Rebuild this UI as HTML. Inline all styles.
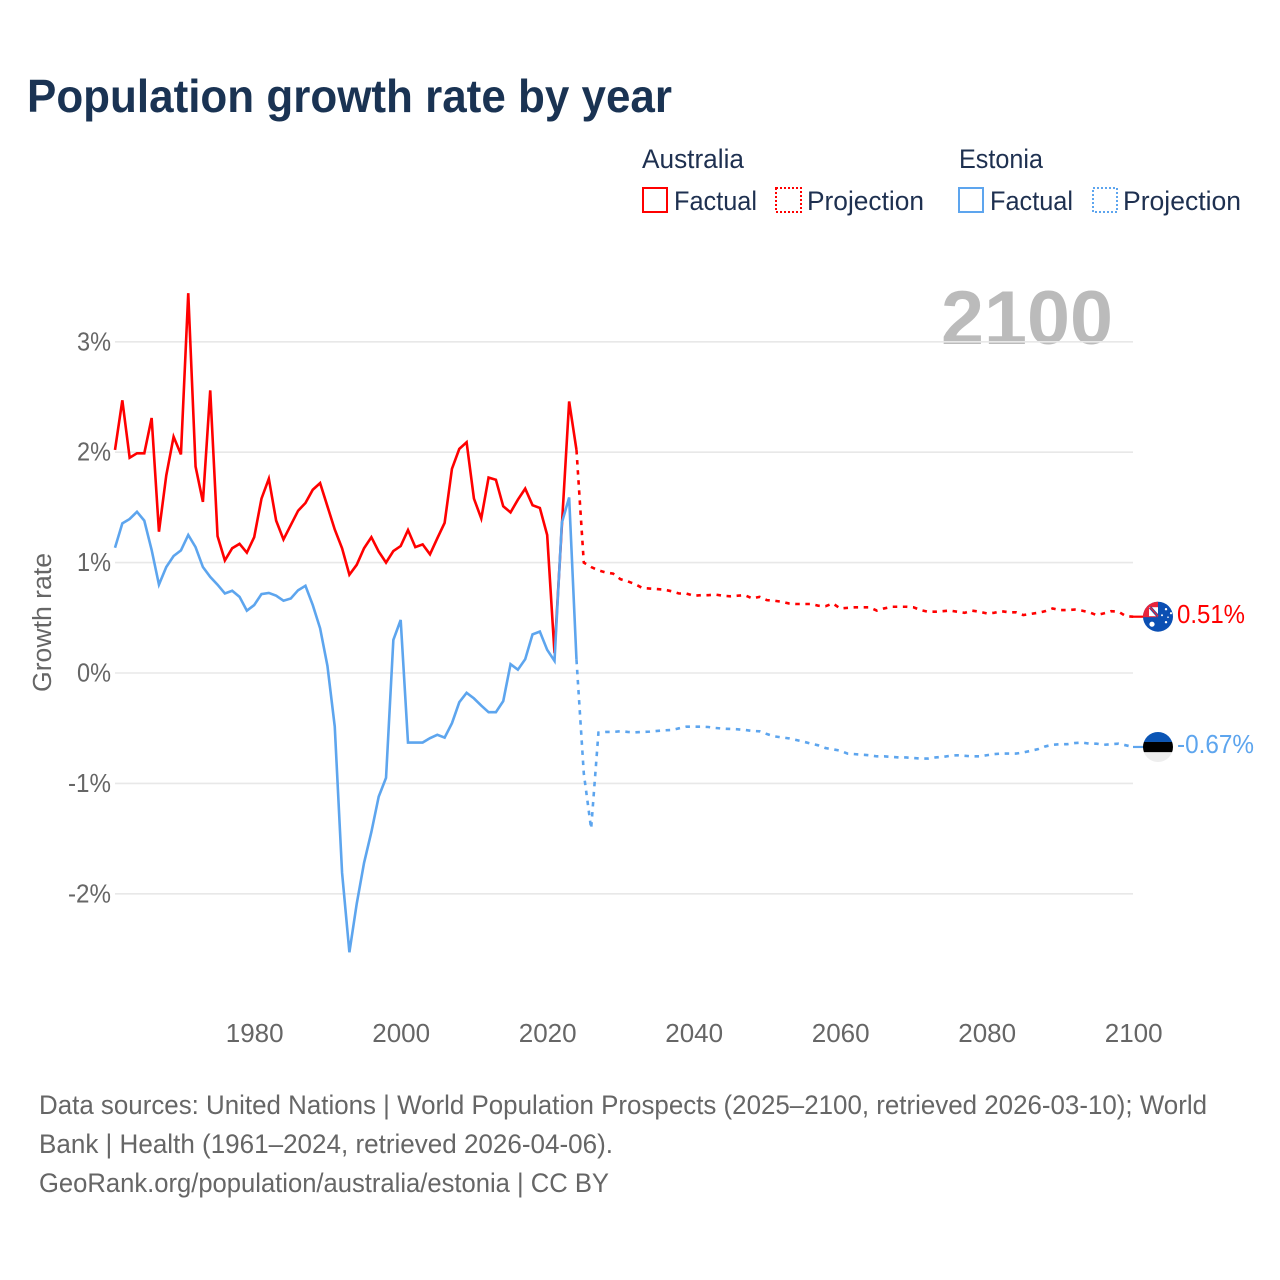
<!DOCTYPE html>
<html lang="en">
<head>
<meta charset="utf-8">
<title>Population growth rate by year</title>
<style>
html,body{margin:0;padding:0;background:#fff;}
body{width:1280px;height:1280px;overflow:hidden;}
svg{display:block;}
text{font-family:"Liberation Sans",sans-serif;}
</style>
</head>
<body>
<svg id="chart" width="1280" height="1280" viewBox="0 0 1280 1280" xmlns="http://www.w3.org/2000/svg">
  <defs>
    <clipPath id="clip-au"><circle cx="1158" cy="616.5" r="15"/></clipPath>
    <clipPath id="clip-ee"><circle cx="1158" cy="746.3" r="15"/></clipPath>
  </defs>
  <rect width="1280" height="1280" fill="#fff"/>
  <text x="27" y="112" font-size="46" font-weight="700" fill="#1a3353" textLength="645" lengthAdjust="spacingAndGlyphs">Population growth rate by year</text>

  <g font-size="26.5" fill="#1e3050">
    <text x="642" y="168" textLength="102" lengthAdjust="spacingAndGlyphs">Australia</text>
    <text x="959" y="168" textLength="84" lengthAdjust="spacingAndGlyphs">Estonia</text>
    <rect x="643" y="188" width="24" height="24" fill="none" stroke="#ff0000" stroke-width="2"/>
    <text x="674" y="210" textLength="83" lengthAdjust="spacingAndGlyphs">Factual</text>
    <rect x="776" y="188" width="25" height="24" fill="none" stroke="#ff0000" stroke-width="2" stroke-dasharray="2 2"/>
    <text x="807" y="210" textLength="117" lengthAdjust="spacingAndGlyphs">Projection</text>
    <rect x="959" y="188" width="24" height="24" fill="none" stroke="#5da5ee" stroke-width="2"/>
    <text x="990" y="210" textLength="83" lengthAdjust="spacingAndGlyphs">Factual</text>
    <rect x="1093" y="188" width="24" height="24" fill="none" stroke="#5da5ee" stroke-width="2" stroke-dasharray="2 2"/>
    <text x="1123" y="210" textLength="118" lengthAdjust="spacingAndGlyphs">Projection</text>
  </g>

  <text transform="translate(51,692) rotate(-90)" font-size="25.5" fill="#666" textLength="139" lengthAdjust="spacingAndGlyphs">Growth rate</text>
  <text x="941" y="344" font-size="76" font-weight="700" fill="#bbbbbb" textLength="172" lengthAdjust="spacingAndGlyphs">2100</text>

  <g id="grid"></g>
  <g id="yticks"></g>
  <g id="xticks"></g>
  <g id="series"></g>
  <g id="flags"></g>

  <g font-size="26.5" fill="#666">
    <text x="39" y="1114" textLength="1168" lengthAdjust="spacingAndGlyphs">Data sources: United Nations | World Population Prospects (2025–2100, retrieved 2026-03-10); World</text>
    <text x="39" y="1153" textLength="574" lengthAdjust="spacingAndGlyphs">Bank | Health (1961–2024, retrieved 2026-04-06).</text>
    <text x="39" y="1192" textLength="570" lengthAdjust="spacingAndGlyphs">GeoRank.org/population/australia/estonia | CC BY</text>
  </g>
</svg>
<script>
const factualStartYear = 1961;
const projectionStartYear = 2024;
const yTickValues = [3, 2, 1, 0, -1, -2];
const yTickLabels = ["3%", "2%", "1%", "0%", "-1%", "-2%"];
const xTickValues = [1980, 2000, 2020, 2040, 2060, 2080, 2100];
const xTickLabels = ["1980", "2000", "2020", "2040", "2060", "2080", "2100"];

const australiaFactual = [2.02,2.47,1.95,1.99,1.99,2.31,1.28,1.79,2.14,1.98,3.44,1.87,1.55,2.56,1.24,1.02,1.13,1.17,1.09,1.23,1.58,1.76,1.38,1.21,1.34,1.47,1.54,1.66,1.72,1.51,1.30,1.13,0.89,0.98,1.13,1.23,1.10,1.00,1.105,1.15,1.295,1.14,1.165,1.075,1.22,1.36,1.85,2.03,2.09,1.58,1.40,1.77,1.75,1.51,1.455,1.57,1.67,1.52,1.495,1.25,0.18,1.33,2.46,2.02];
const australiaProjection = [2.02,1.00,0.96,0.93,0.91,0.90,0.85,0.83,0.805,0.77,0.765,0.76,0.755,0.74,0.72,0.72,0.70,0.705,0.705,0.71,0.70,0.695,0.70,0.705,0.675,0.69,0.66,0.655,0.645,0.63,0.625,0.625,0.625,0.61,0.605,0.63,0.585,0.59,0.595,0.595,0.595,0.565,0.585,0.60,0.60,0.60,0.595,0.57,0.555,0.555,0.56,0.565,0.555,0.545,0.565,0.555,0.54,0.545,0.56,0.55,0.55,0.525,0.535,0.545,0.56,0.585,0.57,0.57,0.575,0.565,0.55,0.525,0.54,0.56,0.555,0.515,0.51];

const estoniaFactual = [1.135,1.355,1.395,1.46,1.38,1.115,0.80,0.96,1.06,1.11,1.25,1.14,0.96,0.87,0.80,0.72,0.745,0.69,0.565,0.615,0.715,0.725,0.70,0.655,0.675,0.75,0.79,0.615,0.405,0.065,-0.485,-1.81,-2.53,-2.09,-1.72,-1.44,-1.12,-0.95,0.30,0.48,-0.63,-0.63,-0.63,-0.59,-0.56,-0.585,-0.455,-0.265,-0.18,-0.23,-0.295,-0.355,-0.355,-0.255,0.08,0.03,0.125,0.35,0.375,0.21,0.11,1.36,1.59,0.12];
const estoniaProjection = [0.12,-0.91,-1.41,-0.54,-0.534,-0.534,-0.528,-0.534,-0.537,-0.534,-0.531,-0.525,-0.519,-0.516,-0.501,-0.486,-0.486,-0.486,-0.489,-0.498,-0.504,-0.507,-0.51,-0.516,-0.525,-0.528,-0.553,-0.574,-0.583,-0.592,-0.607,-0.622,-0.64,-0.655,-0.68,-0.691,-0.703,-0.73,-0.735,-0.74,-0.745,-0.755,-0.755,-0.76,-0.765,-0.765,-0.77,-0.775,-0.775,-0.765,-0.76,-0.75,-0.745,-0.75,-0.755,-0.755,-0.745,-0.735,-0.73,-0.73,-0.73,-0.72,-0.705,-0.69,-0.665,-0.65,-0.645,-0.645,-0.635,-0.63,-0.64,-0.64,-0.65,-0.645,-0.64,-0.655,-0.67];

const australiaLabel = "0.51%";
const estoniaLabel = "-0.67%";

const NS = "http://www.w3.org/2000/svg";
const RED = "#ff0000";
const BLUE = "#5da5ee";
function xScale(year) { return 115 + (year - 1961) * 7.325; }
function yScale(value) { return 673 - value * 110.4; }
function make(tag, attrs, parent) {
  const el = document.createElementNS(NS, tag);
  for (const k in attrs) el.setAttribute(k, attrs[k]);
  parent.appendChild(el);
  return el;
}
function linePath(values, startYear) {
  return values.map(function (v, i) {
    return (i ? "L" : "M") + xScale(startYear + i).toFixed(2) + " " + yScale(v).toFixed(2);
  }).join(" ");
}

const grid = document.getElementById("grid");
const yticks = document.getElementById("yticks");
const xticks = document.getElementById("xticks");
const series = document.getElementById("series");
const flags = document.getElementById("flags");

yTickValues.forEach(function (v, i) {
  const g = make("line", {x1: 115, x2: 1133, y1: yScale(v), y2: yScale(v), stroke: "#e8e8e8", "stroke-width": 1.6}, grid);
  
  
  const t = make("text", {x: 111, y: yScale(v) + 8.5, "text-anchor": "end", "font-size": 26, fill: "#666", textLength: yTickLabels[i].length > 2 ? 43 : 34, lengthAdjust: "spacingAndGlyphs"}, yticks);
  
  
  t.textContent = yTickLabels[i];
});

xTickValues.forEach(function (v, i) {
  const t = make("text", {x: xScale(v) + 0.5, y: 1042, "text-anchor": "middle", "font-size": 26, fill: "#666"}, xticks);
  
  
  t.textContent = xTickLabels[i];
});

const lineAuF = make("path", {d: linePath(australiaFactual, factualStartYear), fill: "none", stroke: RED, "stroke-width": 2.6, "stroke-linejoin": "miter"}, series);


const lineAuP = make("path", {d: linePath(australiaProjection, projectionStartYear), fill: "none", stroke: RED, "stroke-width": 2.6, "stroke-dasharray": "4.5 5.6"}, series);


const lineEeF = make("path", {d: linePath(estoniaFactual, factualStartYear), fill: "none", stroke: BLUE, "stroke-width": 2.6, "stroke-linejoin": "miter"}, series);


const lineEeP = make("path", {d: linePath(estoniaProjection, projectionStartYear), fill: "none", stroke: BLUE, "stroke-width": 2.6, "stroke-dasharray": "4.5 5.6"}, series);



const auY = yScale(australiaProjection[australiaProjection.length - 1]);
const eeY = yScale(estoniaProjection[estoniaProjection.length - 1]);

const connAu = make("line", {x1: 1133, x2: 1144, y1: auY, y2: auY, stroke: RED, "stroke-width": 2.2}, flags);


const connEe = make("line", {x1: 1133, x2: 1144, y1: eeY, y2: eeY, stroke: BLUE, "stroke-width": 2.2}, flags);



/* Australia flag */
const auFlag = make("g", {transform: "translate(0," + (auY - 616.5) + ")"}, flags);


const auClip = make("g", {"clip-path": "url(#clip-au)"}, auFlag);
make("rect", {x: 1143, y: 601, width: 30, height: 31, fill: "#0b4fb3"}, auClip);
make("rect", {x: 1143, y: 601, width: 15, height: 16, fill: "#e8243c"}, auClip);
make("rect", {x: 1149, y: 607, width: 9, height: 9, fill: "#ffffff"}, auClip);
make("path", {d: "M1150 607 L1158 616", stroke: "#2b4c9b", "stroke-width": 3, fill: "none"}, auClip);
make("path", {d: "M1150 607 L1158 616", stroke: "#e8243c", "stroke-width": 1.2, fill: "none"}, auClip);
[[1152, 624, 2.6], [1166, 609, 1.2], [1171, 613, 1.1], [1166, 622, 1.2], [1162, 615, 1], [1168, 617, 0.8]].forEach(function (s) {
  const star = make("circle", {cx: s[0], cy: s[1], r: s[2], fill: "#fff"}, auClip);
  
  
});

/* Estonia flag */
const eeFlag = make("g", {transform: "translate(0," + (eeY - 746.3) + ")"}, flags);


const eeClip = make("g", {"clip-path": "url(#clip-ee)"}, eeFlag);
make("rect", {x: 1143, y: 731, width: 30, height: 10.3, fill: "#0b55b5"}, eeClip);
make("rect", {x: 1143, y: 741.3, width: 30, height: 10.3, fill: "#000"}, eeClip);
make("rect", {x: 1143, y: 751.6, width: 30, height: 10.4, fill: "#eeeeee"}, eeClip);

const auText = make("text", {x: 1177, y: auY + 6.5, "font-size": 25.5, fill: RED, textLength: 68, lengthAdjust: "spacingAndGlyphs"}, flags);


auText.textContent = australiaLabel;
const eeText = make("text", {x: 1177, y: eeY + 6, "font-size": 25.5, fill: BLUE, textLength: 77, lengthAdjust: "spacingAndGlyphs"}, flags);


eeText.textContent = estoniaLabel;
</script>
</body>
</html>
